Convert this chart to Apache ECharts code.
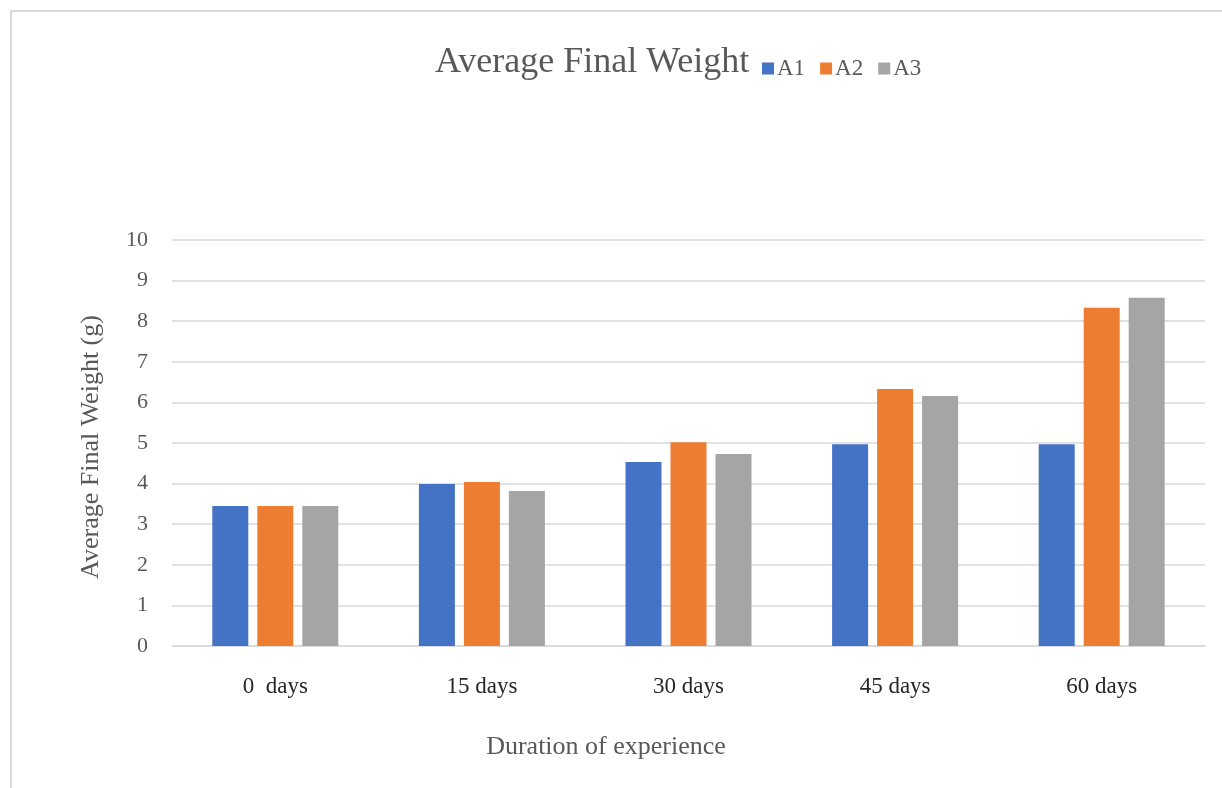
<!DOCTYPE html>
<html>
<head>
<meta charset="utf-8">
<script src="https://cdn.jsdelivr.net/npm/echarts@6/dist/echarts.min.js"></script>
<style>
  html, body { margin: 0; padding: 0; background: #fff; }
  #chart { width: 1222px; height: 788px; }
</style>
</head>
<body>
<div id="chart"></div>
<script>
// Average final weight per treatment over the trial period
const categories = ['0  days', '15 days', '30 days', '45 days', '60 days'];
const seriesNames = ['A1', 'A2', 'A3'];
const a1 = [3.45, 3.99, 4.53, 4.97, 4.97];
const a2 = [3.45, 4.04, 5.02, 6.33, 8.33];
const a3 = [3.45, 3.82, 4.73, 6.16, 8.58];
const yTicks = { min: 0, max: 10, interval: 1 };

const colors = ['#4472C4', '#ED7D31', '#A5A5A5'];
const serif = '"Liberation Serif", "Times New Roman", serif';

const chart = echarts.init(document.getElementById('chart'), null, { renderer: 'canvas' });

chart.setOption({
  animation: false,
  backgroundColor: '#ffffff',
  color: colors,
  graphic: [{
    type: 'rect',
    shape: { x: 11, y: 11, width: 1400, height: 1000 },
    style: { fill: 'none', stroke: '#d9d9d9', lineWidth: 2 },
    silent: true,
    z: -10
  }],
  title: {
    text: 'Average Final Weight',
    left: 430,
    top: 40,
    textStyle: { fontFamily: serif, fontSize: 36, fontWeight: 'normal', color: '#595959' }
  },
  legend: {
    data: seriesNames,
    left: 757,
    top: 52,
    itemWidth: 12,
    itemHeight: 12,
    itemGap: 15,
    icon: 'rect',
    textStyle: { fontFamily: serif, fontSize: 23, color: '#595959', padding: [6, 0, 0, -2] }
  },
  grid: { left: 172, right: 17, top: 240, bottom: 142 },
  xAxis: {
    type: 'category',
    data: categories,
    name: 'Duration of experience',
    nameLocation: 'middle',
    nameGap: 88,
    nameTextStyle: { fontFamily: serif, fontSize: 26, color: '#595959', padding: [0, 165, 0, 0] },
    axisLine: { show: true, lineStyle: { color: '#d9d9d9', width: 1.5 } },
    axisTick: { show: false },
    axisLabel: { fontFamily: serif, fontSize: 23, color: '#262626', margin: 29 }
  },
  yAxis: {
    type: 'value',
    min: yTicks.min,
    max: yTicks.max,
    interval: yTicks.interval,
    name: 'Average Final Weight (g)',
    nameLocation: 'middle',
    nameGap: 68,
    nameRotate: 90,
    nameTextStyle: { fontFamily: serif, fontSize: 26, color: '#595959', padding: [0, 8, 0, 0] },
    axisLine: { show: false },
    axisTick: { show: false },
    axisLabel: { fontFamily: serif, fontSize: 22, color: '#595959', margin: 24 },
    splitLine: { lineStyle: { color: '#d9d9d9', width: 1.5 } }
  },
  series: [
    { name: seriesNames[0], type: 'bar', data: a1, barWidth: 36, barGap: '25%' },
    { name: seriesNames[1], type: 'bar', data: a2, barWidth: 36, barGap: '25%' },
    { name: seriesNames[2], type: 'bar', data: a3, barWidth: 36, barGap: '25%' }
  ]
});
</script>
</body>
</html>
